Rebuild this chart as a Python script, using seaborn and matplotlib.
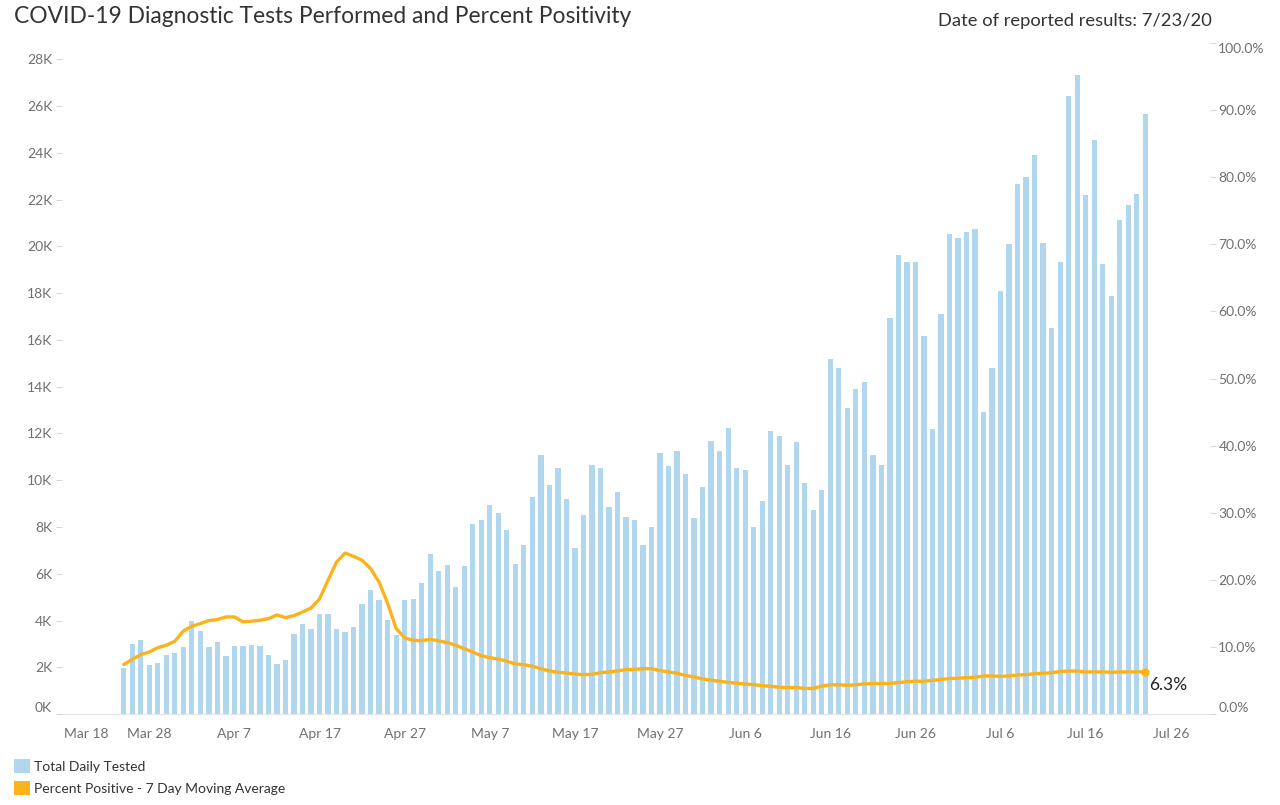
import pandas as pd
import numpy as np
import matplotlib
matplotlib.use("Agg")
import matplotlib.pyplot as plt
import matplotlib.dates as mdates
from matplotlib.patches import Patch
import seaborn as sns

# daily tests (thousands), Mar 25 .. Jul 23 2020
tests_k = [
    1.95, 2.99, 3.16, 2.09, 2.19, 2.52, 2.61, 2.85, 3.98, 3.56,
    2.85, 3.08, 2.48, 2.89, 2.89, 2.95, 2.89, 2.52, 2.14, 2.29,
    3.42, 3.85, 3.65, 4.26, 4.26, 3.65, 3.51, 3.73, 4.69, 5.29,
    4.87, 4.02, 3.36, 4.87, 4.90, 5.61, 6.84, 6.11, 6.37, 5.45,
    6.33, 8.11, 8.29, 8.94, 8.61, 7.87, 6.41, 7.21, 9.28, 11.10,
    9.79, 10.53, 9.18, 7.11, 8.51, 10.63, 10.53, 8.85, 9.50, 8.42,
    8.32, 7.25, 7.99, 11.15, 10.59, 11.24, 10.26, 8.38, 9.69, 11.66,
    11.24, 12.23, 10.53, 10.43, 7.99, 9.09, 12.09, 11.90, 10.63, 11.62,
    9.90, 8.72, 9.57, 15.20, 14.80, 13.10, 13.90, 14.20, 11.10, 10.65,
    16.95, 19.65, 19.35, 19.35, 16.15, 12.20, 17.10, 20.55, 20.35, 20.60,
    20.75, 12.90, 14.80, 18.10, 20.10, 22.65, 22.95, 23.90, 20.15, 16.50,
    19.35, 26.45, 27.35, 22.20, 24.55, 19.25, 17.90, 21.15, 21.75, 22.25,
    25.65,
]

# percent positive, 7 day moving average
pct_pos = [
    7.37, 8.16, 8.85, 9.25, 9.90, 10.25, 10.85, 12.38, 13.08, 13.48,
    13.93, 14.08, 14.47, 14.47, 13.73, 13.83, 13.98, 14.22, 14.77, 14.37,
    14.67, 15.21, 15.80, 17.15, 19.95, 22.66, 23.99, 23.50, 22.91, 21.67,
    19.65, 16.50, 12.74, 11.36, 10.97, 10.95, 11.14, 10.90, 10.65, 10.25,
    9.75, 9.25, 8.66, 8.41, 8.20, 7.86, 7.46, 7.36, 7.12, 6.77,
    6.43, 6.22, 6.12, 5.97, 5.87, 5.92, 6.17, 6.27, 6.43, 6.62,
    6.67, 6.77, 6.77, 6.48, 6.27, 6.07, 5.73, 5.53, 5.23, 5.03,
    4.88, 4.73, 4.58, 4.48, 4.38, 4.24, 4.14, 3.99, 3.94, 3.94,
    3.82, 3.82, 4.16, 4.36, 4.36, 4.29, 4.36, 4.49, 4.55, 4.55,
    4.55, 4.69, 4.82, 4.89, 4.89, 5.02, 5.15, 5.29, 5.35, 5.42,
    5.48, 5.68, 5.68, 5.62, 5.68, 5.82, 5.88, 6.02, 6.08, 6.15,
    6.35, 6.41, 6.41, 6.28, 6.28, 6.28, 6.22, 6.28, 6.28, 6.28,
    6.30,
]

dates = pd.date_range("2020-03-25", periods=len(tests_k), freq="D")
tick_dates = pd.date_range("2020-03-18", "2020-07-26", freq="10D")

df = pd.DataFrame({
    "day": mdates.date2num(dates.to_pydatetime()),
    "tests": np.array(tests_k) * 1000,
    "pct": pct_pos,
})

BLUE = "#b1d7ee"
ORANGE = "#fcb21a"
GREY = "#707070"

sns.set_style("white")
plt.rcParams["font.family"] = ["Lato", "DejaVu Sans"]

fig = plt.figure(figsize=(12.8, 8.05), dpi=100)
ax = fig.add_axes([0.0484, 0.113, 0.8969, 0.8336])

sns.barplot(data=df, x="day", y="tests", native_scale=True, width=0.62,
            color=BLUE, saturation=1, linewidth=0, ax=ax)

ax2 = ax.twinx()
sns.lineplot(data=df, x="day", y="pct", color=ORANGE, linewidth=2.4, ax=ax2)
last = df.iloc[-1]
ax2.plot([last["day"]], [last["pct"]], "o", color=ORANGE, ms=5)
ax2.annotate(f"{last['pct']:.1f}%", (last["day"], last["pct"]),
             xytext=(3, -9.5), textcoords="offset points",
             ha="left", va="center", fontsize=12.5, color="#222222")

x0 = mdates.date2num(pd.Timestamp("2020-03-18").to_pydatetime())
ax.set_xlim(x0 - 0.26, x0 + 134.6)
ax.set_ylim(0, 28700)
ax2.set_ylim(0, 100)

ax.set_xticks(mdates.date2num(tick_dates.to_pydatetime()))
ax.set_xticklabels([f"{d:%b} {d.day}" for d in tick_dates])
ax.set_yticks(np.arange(0, 28001, 2000))
ax.set_yticklabels([f"{v // 1000}K" for v in range(0, 28001, 2000)])
ax2.set_yticks(np.arange(0, 101, 10))
ax2.set_yticklabels([f"{v:.1f}%" for v in range(0, 101, 10)])

for a in (ax, ax2):
    a.set_xlabel("")
    a.set_ylabel("")
    for s in a.spines.values():
        s.set_visible(False)
    a.tick_params(axis="both", colors="#d9d9d9", labelcolor=GREY,
                  labelsize=10, length=4, width=0.8)
ax.spines["bottom"].set_visible(True)
ax.spines["bottom"].set_color("#e3e3e3")
ax.tick_params(axis="x", pad=6)
ax.tick_params(axis="y", pad=3)
ax2.tick_params(axis="y", pad=2)

# edge labels nudged inside like the original
ax.get_xticklabels()[0].set_ha("left")
ax.get_yticklabels()[0].set_va("bottom")
ax2.get_yticklabels()[0].set_va("bottom")
top_lbl = ax2.get_yticklabels()[-1]
top_lbl.set_va("top")
top_lbl.set_y(99.3)

fig.text(0.011, 0.979, "COVID-19 Diagnostic Tests Performed and Percent Positivity",
         ha="left", va="center", fontsize=16.4, color="#333333")
fig.text(0.947, 0.974, "Date of reported results: 7/23/20",
         ha="right", va="center", fontsize=13.2, color="#333333")

handles = [Patch(facecolor=BLUE, edgecolor="none"), Patch(facecolor=ORANGE, edgecolor="none")]
fig.legend(handles, ["Total Daily Tested", "Percent Positive - 7 Day Moving Average"],
           loc="lower left", bbox_to_anchor=(0.003, 0.0), frameon=False,
           fontsize=10, handlelength=1.15, handleheight=1.15, handletextpad=0.35,
           labelspacing=0.62, borderpad=0.2, labelcolor="#333333")

fig.savefig("out.png", dpi=100)
